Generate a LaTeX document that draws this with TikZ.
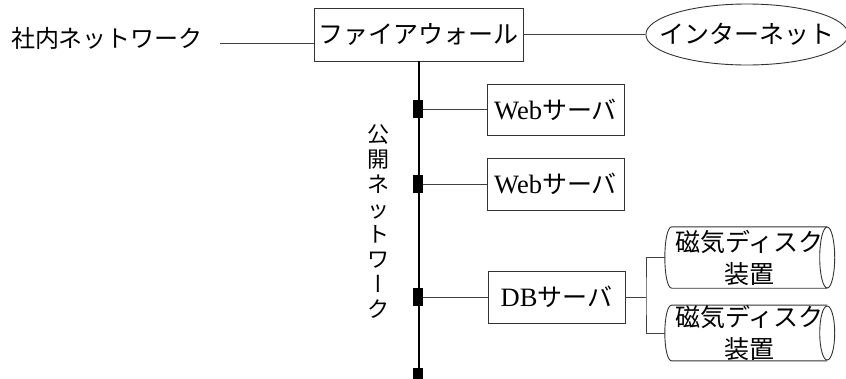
\documentclass[tikz,border=0pt]{standalone}
\usepackage{fontspec}
\setmainfont{Liberation Serif}
\newfontfamily\cjk{Noto Sans CJK JP}
\newfontfamily\cjkv[RawFeature=+vert]{Noto Sans CJK JP}
\usetikzlibrary{shapes.geometric}
\begin{document}
\begin{tikzpicture}[x=1pt,y=-1pt,
  box/.style={draw=black!80, line width=0.9pt, inner sep=0pt},
  jp/.style={font=\cjk\fontsize{25}{30}\selectfont},
  lat/.style={font=\fontsize{26.5}{30}\selectfont},
  link/.style={line width=0.9pt, draw=black!75},
  bus/.style={line width=2pt, draw=black},
  tap/.style={fill=black, minimum width=10pt, minimum height=18pt, inner sep=0pt},
  disk/.style={inner sep=0pt, minimum width=155pt, align=center,
    font=\cjk\fontsize{25}{32}\selectfont},
  diskline/.style={draw=black!80, line width=0.9pt}
]
\useasboundingbox (0,0) rectangle (846,378);

\node[font=\cjk\fontsize{24}{28}\selectfont] (lan) at (107,38) {社内ネットワーク};
\node[box, jp, minimum width=209pt, minimum height=53pt] (fw) at (418.5,34.5) {ファイアウォール};
\node[box, jp, ellipse, inner xsep=-16pt, inner ysep=0pt, minimum width=194pt, minimum height=61pt] (inet) at (747,34.5) {インターネット};

\coordinate (lanend) at (220,43);
\draw[link] (lanend) -- (fw.west |- lanend);
\draw[link] (fw.east) -- (inet.west);

\coordinate (busend) at (418,378);
\draw[bus] (fw.south) -- (fw.south |- busend);

\node[tap] (t1) at (418,109) {};
\node[tap] (t2) at (418,184) {};
\node[tap] (t3) at (418,297) {};
\node[tap] (t4) at (418,377) {};

\node[box, lat, minimum width=137pt, minimum height=51pt] (web1) at (555.5,109.5) {Web{\cjk\fontsize{25}{30}\selectfont サーバ}};
\node[box, lat, minimum width=137pt, minimum height=52pt] (web2) at (555.5,184) {Web{\cjk\fontsize{25}{30}\selectfont サーバ}};
\node[box, lat, minimum width=137pt, minimum height=52pt] (db) at (556.5,297) {DB{\cjk\fontsize{25}{30}\selectfont サーバ}};

\draw[link] (t1.east) -- (t1.east -| web1.west);
\draw[link] (t2.east) -- (t2.east -| web2.west);
\draw[link] (t3.east) -- (t3.east -| db.west);

\node[font=\cjk\fontsize{22}{25}\selectfont, align=center] (pub) at (378,221.5)
  {公\\開\\ネ\\ッ\\ト\\ワ\\{\cjkv ー}\\ク};

% disks
\node[disk, minimum height=61pt] (d1) at (749.5,257.5) {磁気ディスク\\装置};
\node[disk, minimum height=54pt] (d2) at (749.5,333) {磁気ディスク\\装置};

\draw[diskline] (d1.north west) -- (d1.north east)
    (d1.south east) -- (d1.south west)
    .. controls ([xshift=-9.3pt]d1.south west) and ([xshift=-9.3pt]d1.north west) .. (d1.north west);
\draw[diskline] (d1.east) ellipse [x radius=7.5pt, y radius=30.5pt];
\draw[diskline] (d2.north west) -- (d2.north east)
    (d2.south east) -- (d2.south west)
    .. controls ([xshift=-9.3pt]d2.south west) and ([xshift=-9.3pt]d2.north west) .. (d2.north west);
\draw[diskline] (d2.east) ellipse [x radius=7.5pt, y radius=27pt];
\coordinate (d1l) at ([xshift=-7pt]d1.west);
\coordinate (d2l) at ([xshift=-7pt]d2.west);

\coordinate (br) at (646,297);
\draw[link] (db.east) -- (br);
\draw[link] (d1l) -| (br) |- (d2l);
\end{tikzpicture}
\end{document}
